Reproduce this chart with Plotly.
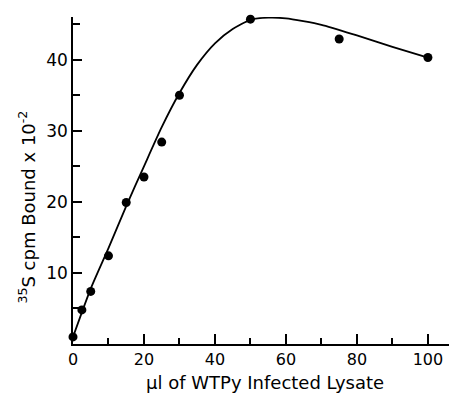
import plotly.graph_objects as go

# measured data points
x_pts = [0, 2.5, 5, 10, 15, 20, 25, 30, 50, 75, 100]
y_pts = [1.0, 4.8, 7.4, 12.4, 19.9, 23.5, 28.4, 35.0, 45.7, 42.9, 40.3]

# hand-drawn fitted curve
x_curve = [0, 5, 10, 15, 20, 25, 30, 35, 40, 45, 50, 55, 60, 70, 80, 90, 100]
y_curve = [1.0, 7.8, 13.5, 19.4, 25.0, 30.5, 35.3, 39.3, 42.3, 44.3, 45.6, 45.9, 45.8, 44.9, 43.4, 41.8, 40.3]

x_ticks = [0, 20, 40, 60, 80, 100]
y_ticks = [10, 20, 30, 40]

FONT = "DejaVu Sans"

fig = go.Figure()
fig.add_trace(go.Scatter(x=x_curve, y=y_curve, mode="lines", cliponaxis=False,
                         line=dict(color="black", width=1.8, shape="spline", smoothing=0.6),
                         hoverinfo="skip", showlegend=False))
fig.add_trace(go.Scatter(x=x_pts, y=y_pts, mode="markers", cliponaxis=False,
                         marker=dict(color="black", size=9), showlegend=False))

# page has an 8px body margin, so the figure is sized/offset to compensate
fig.update_layout(
    width=449, height=391,
    margin=dict(l=65, r=0, t=9, b=55),
    paper_bgcolor="white", plot_bgcolor="white",
    font=dict(family=FONT, color="black", size=17),
    xaxis=dict(range=[0, 108.2], showgrid=False, zeroline=False, automargin=False,
               showline=True, linecolor="black", linewidth=1.5,
               ticks="inside", ticklen=10, tickwidth=1.5, tickcolor="black",
               tickvals=x_ticks, ticktext=[str(v) for v in x_ticks],
               minor=dict(dtick=10, tick0=0, ticks="inside", ticklen=6, tickwidth=1.5, tickcolor="black"),
               tickfont=dict(size=16, family=FONT)),
    yaxis=dict(range=[0, 46.0], showgrid=False, zeroline=False, automargin=False,
               showline=True, linecolor="black", linewidth=1.5,
               ticks="inside", ticklen=9, tickwidth=1.5, tickcolor="black",
               tickvals=y_ticks, ticktext=[str(v) for v in y_ticks],
               minor=dict(dtick=5, tick0=0, ticks="inside", ticklen=7, tickwidth=1.5, tickcolor="black"),
               tickfont=dict(size=17, family=FONT)),
    annotations=[
        dict(text="<sup>35</sup>S cpm Bound x 10<sup>-2</sup>",
             textangle=-90, xref="paper", yref="paper",
             x=-0.12, y=0.42, xanchor="center", yanchor="middle",
             showarrow=False, font=dict(size=18, family=FONT)),
        dict(text="μl of WTPy Infected Lysate",
             xref="paper", yref="paper", x=0.5, y=-0.119,
             xanchor="center", yanchor="middle",
             showarrow=False, font=dict(size=18, family=FONT)),
    ],
)

fig.write_html("out.html")
